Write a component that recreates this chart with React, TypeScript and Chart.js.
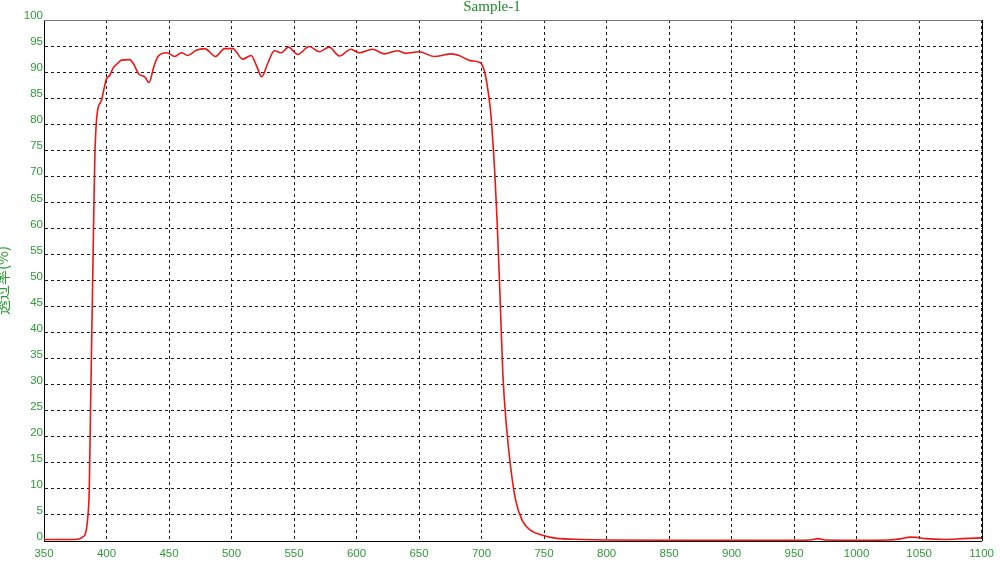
import React, { useEffect, useRef } from "react";
import { Chart, registerables } from "chart.js";

Chart.register(...registerables);

const TITLE = "Sample-1";
const Y_TITLE = "透过率(%)";

const wavelengths = [
  350, 360, 370, 378, 381, 383, 385, 386.2, 387.2, 388.6, 389.9, 390.7, 392.5, 396, 398,
  400, 402.7, 405.3, 409, 412, 418.6, 421.3, 426, 430.6, 434, 437.8, 441.2, 448.4, 454.5,
  459.9, 465.1, 471.8, 478.5, 487.2, 494.4, 501, 509, 515.7, 519.7, 524.2, 529, 534.3,
  539.7, 545.5, 553, 562.2, 570.2, 578.2, 586.2, 595.5, 602.1, 612.8, 622.1, 632.7, 639.4,
  650, 662, 676, 682, 691, 699, 702, 704.5, 707, 708, 710.6, 712.5, 714.6, 717, 719.7,
  723.2, 727.2, 732.4, 739, 748, 760, 780, 800, 850, 900, 950, 963, 969, 975, 1000, 1025,
  1035, 1043, 1048, 1055, 1070, 1085, 1100,
];

const transmittance = [
  0.3, 0.3, 0.3, 0.4, 0.8, 1.3, 4.5, 9.8, 25, 45, 64, 74, 82, 84.6, 86.8,
  88.7, 89.4, 90.8, 91.7, 92.3, 92.4, 91.7, 89.6, 89.1, 88, 91, 93, 93.7, 93,
  93.7, 93.2, 94.2, 94.5, 93, 94.5, 94.5, 92.5, 93.2, 91.4, 89.1, 91.7, 94.1,
  93.7, 94.8, 93.4, 94.9, 93.9, 94.8, 93.1, 94.4, 93.7, 94.4, 93.5, 94.1, 93.6,
  93.9, 93.0, 93.5, 93.2, 92.2, 91.8, 90.4, 87.5, 83, 80.2, 70.6, 61, 48.2, 32.2, 22.6,
  14.3, 7.9, 4, 2.1, 1.15, 0.5, 0.3, 0.2, 0.15, 0.15, 0.15, 0.2, 0.45, 0.2, 0.15, 0.2,
  0.4, 0.75, 0.7, 0.45, 0.3, 0.45, 0.6,
];

const X_MIN = 350;
const X_MAX = 1100;
const X_STEP = 50;
const Y_MIN = 0;
const Y_MAX = 100;
const Y_STEP = 5;

const GREEN = "#2f9a38";
const TITLE_GREEN = "#1f8a2a";

const frameBorder = {
  id: "frameBorder",
  afterDraw(chart: any) {
    const { ctx, chartArea } = chart;
    ctx.save();
    ctx.setLineDash([]);
    ctx.lineWidth = 1;
    ctx.strokeStyle = "#777";
    ctx.beginPath();
    ctx.moveTo(chartArea.left, Math.round(chartArea.top) + 0.5);
    ctx.lineTo(chartArea.right, Math.round(chartArea.top) + 0.5);
    ctx.stroke();
    ctx.strokeStyle = "#000";
    ctx.beginPath();
    ctx.moveTo(Math.round(chartArea.right) + 0.5, chartArea.top);
    ctx.lineTo(Math.round(chartArea.right) + 0.5, chartArea.bottom);
    ctx.stroke();
    ctx.restore();
  },
};

export default function App() {
  const canvasRef = useRef<HTMLCanvasElement | null>(null);

  useEffect(() => {
    if (!canvasRef.current) return;
    const points = wavelengths.map((x, i) => ({ x, y: transmittance[i] }));
    const tickFont = { family: "'Liberation Sans', Arial, sans-serif", size: 11.5 };
    const chart = new Chart(canvasRef.current, {
      type: "line",
      data: {
        datasets: [
          {
            data: points,
            borderColor: "#ee1515",
            borderWidth: 1.6,
            pointRadius: 0,
            fill: false,
            cubicInterpolationMode: "monotone",
          },
        ],
      },
      options: {
        responsive: false,
        animation: false,
        layout: { padding: { left: 0, right: 16, top: 0, bottom: 0 } },
        plugins: {
          legend: { display: false },
          tooltip: { enabled: false },
          title: {
            display: true,
            text: TITLE,
            color: TITLE_GREEN,
            font: { family: "'Liberation Serif', 'Times New Roman', serif", size: 15, weight: "normal" },
            padding: { top: -2, bottom: 4 },
          },
        },
        scales: {
          x: {
            type: "linear",
            min: X_MIN,
            max: X_MAX,
            afterFit(scale: any) {
              scale.height = 36;
            },
            ticks: {
              stepSize: X_STEP,
              color: GREEN,
              font: tickFont,
              padding: 6,
              maxRotation: 0,
              autoSkip: false,
              callback: (v: any) => String(v),
            },
            grid: {
              color: "#1a1a1a",
              lineWidth: 1,
              drawTicks: false,
            },
            border: { display: true, color: "#000", width: 1, dash: [3, 3] },
          },
          y: {
            type: "linear",
            min: Y_MIN,
            max: Y_MAX,
            afterFit(scale: any) {
              scale.width = 44;
            },
            title: {
              display: true,
              text: Y_TITLE,
              color: GREEN,
              font: { family: "'Noto Sans CJK SC', sans-serif", size: 15 },
              padding: { top: -7, bottom: 0 },
            },
            ticks: {
              stepSize: Y_STEP,
              color: GREEN,
              font: tickFont,
              padding: 1,
              labelOffset: -4,
              autoSkip: false,
              callback: (v: any) => String(v),
            },
            grid: {
              color: "#1a1a1a",
              lineWidth: 1,
              drawTicks: false,
            },
            border: { display: true, color: "#000", width: 1, dash: [3, 3] },
          },
        },
      } as any,
      plugins: [frameBorder],
    });
    return () => chart.destroy();
  }, []);

  return (
    <div style={{ position: "absolute", left: 0, top: 0, width: 1000, height: 577, background: "#fff" }}>
      <canvas ref={canvasRef} width={1000} height={577} />
    </div>
  );
}
